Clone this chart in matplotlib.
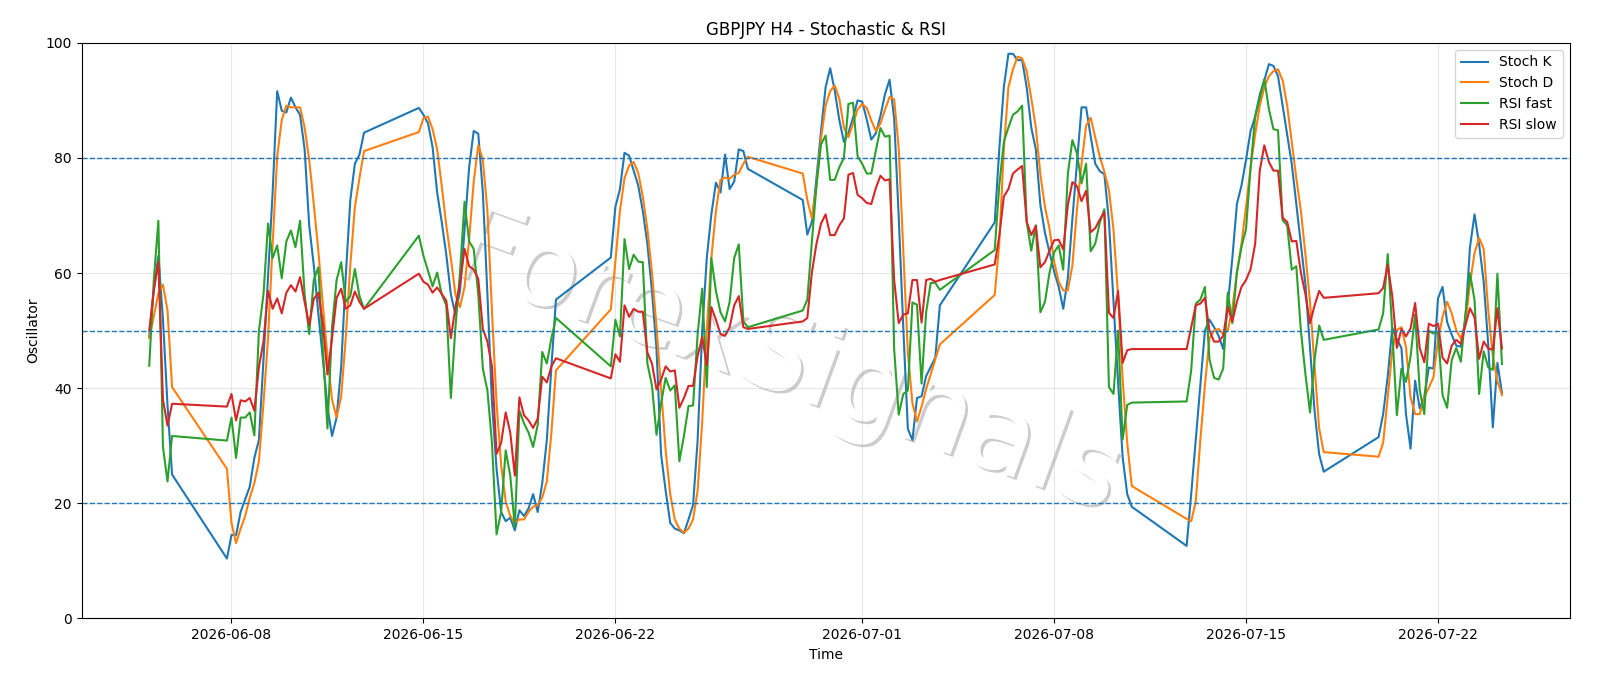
import numpy as np
import pandas as pd
import matplotlib
matplotlib.use("Agg")
import matplotlib.pyplot as plt
import matplotlib.patheffects as pe

# H4 bars, FX hours: Sun 20:00 -> Fri 20:00
all_bars = pd.date_range("2026-06-05 00:00", "2026-07-24 08:00", freq="4h")
keep = []
for t in all_bars:
    wd = t.weekday()
    if wd == 5:
        continue
    if wd == 6 and t.hour < 20:
        continue
    keep.append(t)
times = pd.DatetimeIndex(keep)

stoch_k = [
    49, 57, 63, 52, 37, 25, 10.4, 14.5, 14.5, 18.5, 20.7, 22.9, 27.9, 31, 45, 59.5,
    74, 91.6, 88.2, 87.9, 90.5, 88.8, 87.5, 81.5, 68.3, 61.4, 53, 45, 36.7, 31.7, 34.9, 43.7,
    59.5, 72.7, 79, 80.6, 84.4, 88.7, 87.5, 86, 81.9, 74, 68.9, 63.2, 56.3, 52.8, 56.9, 67.7,
    78.4, 84.7, 84.2, 74, 56.3, 37.4, 26, 18.5, 16.9, 17.5, 15.3, 18.8, 17.8, 19.1, 21.6, 18.5,
    23.5, 31, 43.7, 55.4, 62.7, 71.5, 74.6, 80.9, 80.4, 77.8, 75.2, 70.8, 65.1, 56.9, 46.8, 28.5,
    22.2, 16.6, 15.6, 15.3, 14.8, 17.2, 19.7, 31, 50, 62.6, 70.2, 75.7, 74, 80.6, 74.6, 75.9,
    81.5, 81.2, 78.1, 72.7, 66.7, 68.9, 76.5, 84.7, 92.3, 95.6, 91.7, 86.6, 82.8, 84.4, 87, 90,
    89.8, 86.7, 83.2, 84.3, 87.3, 91.1, 93.6, 86.9, 69.7, 50.5, 32.9, 31, 38.3, 38.6, 42.1, 43.7,
    45.3, 54.4, 68.8, 81.5, 92.3, 98.1, 98.1, 97, 97, 92.3, 85.3, 81.5, 71.8, 67, 63.6, 60.3,
    57.6, 53.8, 59.1, 69.4, 79, 88.8, 88.8, 83.8, 79, 77.7, 77.2, 69, 55, 41, 28, 21.6,
    19.4, 12.6, 21.6, 31, 40.5, 50, 51.9, 50.6, 49.1, 46.8, 54.4, 62.6, 72, 75.2, 79.7, 84.7,
    87.2, 91, 93.5, 96.3, 96, 94.2, 89.1, 84.1, 79, 72, 65, 58, 47, 36, 28.5, 25.5,
    31.5, 35.5, 42, 50.5, 48.5, 47, 35.5, 29.5, 41.3, 36.5, 38.5, 43.6, 43.4, 55.6, 57.6, 51.5,
    49.3, 47.4, 47.2, 52, 64.5, 70.2, 65, 58.5, 47.5, 33.2, 44.4, 39.2,
]

stoch_d = [
    48.7, 52.5, 56.5, 58, 53.5, 40.2, 26, 16.6, 13.1, 15.6, 17.8, 21, 23.5, 27.3, 37.4, 48.7,
    65, 80.3, 86.6, 89.1, 88.8, 88.8, 88.8, 85.3, 79.7, 72, 63.9, 54.4, 45.6, 38, 34.9, 38.6,
    48.7, 61.4, 71.5, 76.5, 81.2, 84.5, 86.9, 87.2, 85, 81.5, 75.2, 68.3, 62.6, 56.3, 54.1, 57.6,
    65.8, 75.9, 82.2, 79.7, 70.8, 53.2, 37.4, 26.7, 20.3, 17.8, 16.6, 17.2, 17.2, 18.5, 19.4, 19.7,
    21, 23.8, 32.3, 43.1, 53.7, 62, 70.8, 76.5, 78.7, 79.3, 77.4, 73.3, 67.7, 60.1, 50.6, 39.9,
    29.2, 21.6, 17.2, 15.6, 14.9, 15.6, 17.2, 22.2, 34.2, 50, 62.6, 70.8, 76.2, 76.6, 76.4, 77.1,
    77.4, 79, 80.2, 77.3, 72.7, 69.5, 75.2, 83.4, 89.1, 91.6, 92.6, 90.3, 85.3, 83.6, 86, 88.4,
    89.4, 88.7, 86.5, 84.7, 86, 88.4, 90.6, 90.2, 81.7, 64, 46.2, 37.4, 34.2, 36.8, 39.9, 42.4,
    45, 47.6, 56.2, 65.1, 81.5, 92.3, 95.4, 97.6, 97.3, 95.1, 90.4, 85.3, 77.1, 71.5, 67.7, 62,
    58.5, 57, 57, 61.3, 71, 79, 85.6, 87, 83.6, 80.2, 77.6, 74.4, 67.5, 56, 41.5, 30.5,
    23, 17.3, 16.9, 20.3, 31, 40.5, 48.7, 50, 50.3, 49.4, 50, 53.8, 60.1, 65.1, 71.5, 78.4,
    84.1, 89.1, 92.3, 94.2, 95.1, 95.4, 93.5, 89.1, 82.8, 76.5, 70.8, 63.2, 55, 43.7, 33, 28.9,
    28.1, 30.5, 38.4, 46.6, 50.1, 50.6, 47.1, 38.4, 35.5, 35.5, 38.4, 40.1, 41.9, 48.3, 52.4, 55,
    53, 50.1, 48.6, 51.2, 58.2, 63.5, 66.1, 64.2, 53.5, 45.5, 41.3, 38.8,
]

rsi_fast = [
    43.9, 58.8, 69.1, 29.8, 23.8, 31.7, 30.9, 34.9, 27.9, 34.9, 34.9, 35.8, 31.8, 50, 56.3, 68.6,
    62.6, 64.8, 59.1, 65.5, 67.4, 64.5, 69.1, 56.3, 49.4, 58.8, 61, 46.8, 33, 50.6, 58.8, 61.9,
    55, 56, 60.7, 56, 53.8, 66.5, 63, 60.4, 57.7, 60.1, 56.3, 54.4, 38.3, 50.6, 60.1, 72.4,
    65.5, 64.2, 56.3, 43.4, 39.6, 30.4, 14.6, 18.5, 29.2, 24.8, 15.9, 36.1, 33.9, 32.3, 29.8, 33.6,
    46.3, 44.3, 48.7, 52.2, 43.8, 51.9, 49, 65.9, 60.7, 63.2, 62, 61.9, 44.3, 40.5, 31.9, 37.4,
    41.8, 39.6, 40.5, 27.3, 31.7, 36.9, 37, 49.4, 57.3, 40.2, 62.6, 56.9, 53.2, 51.6, 55, 62.6,
    65, 51.6, 50.6, 53.5, 55.4, 65.5, 75.2, 82.4, 83.9, 76.2, 76.2, 78.4, 80, 89.4, 89.6, 80.3,
    79, 77.3, 77.3, 81.3, 85.2, 83.7, 83.9, 46.8, 35.4, 39, 39.6, 54.9, 54.5, 40.8, 53.2, 58.3,
    58.3, 57.1, 64, 75.2, 82.8, 85.3, 87.5, 88.1, 89.1, 68.9, 63.9, 68.3, 53.2, 55, 60.1, 63.6,
    64.8, 60.6, 77.2, 83.1, 80.8, 75.6, 79, 63.8, 65.1, 68.8, 71.1, 40.2, 39, 50, 31.1, 37.1,
    37.5, 37.7, 43.1, 54.7, 55.4, 57.6, 45, 41.8, 41.5, 43.4, 56.6, 51.3, 60.1, 64.5, 67.7, 78.4,
    87.2, 90.4, 93.7, 88.5, 85, 84.8, 69.2, 68.3, 60.6, 61.2, 50, 42.4, 35.8, 45, 50.9, 48.4,
    50.2, 53, 63.3, 50, 35.3, 43.4, 41.1, 45.5, 52.8, 39.7, 35.5, 50, 49.5, 49.7, 38.8, 36.6,
    44.9, 47, 44.6, 52.8, 60, 55.3, 39, 46.4, 43.6, 43.2, 59.9, 44.2,
]

rsi_slow = [
    50, 57, 62, 38, 33.5, 37.3, 36.8, 39, 34.4, 37.9, 37.7, 38.3, 36.1, 43.7, 48.1, 56.9,
    53.8, 55.6, 53, 56.6, 57.9, 56.8, 59.3, 55, 51, 55.5, 56.6, 51.3, 42.4, 48.7, 55.7, 57.3,
    53.8, 54.4, 56.8, 55, 53.8, 59.9, 58.5, 58, 56.6, 57.5, 56.4, 55.2, 48.7, 54.1, 58.2, 64.2,
    61.2, 60.6, 59, 50.3, 48.1, 43.7, 28.6, 30.5, 35.8, 32.3, 24.8, 38.4, 35.3, 34.4, 33.1, 34.7,
    42, 41, 43.8, 45.2, 41.7, 45.9, 44.6, 54.4, 52.4, 53.8, 53.3, 53.3, 46.2, 44.3, 39.8, 41.5,
    43.8, 42.9, 43.1, 36.6, 38.3, 40.4, 40.4, 45.6, 48.9, 44, 54.1, 51.9, 49.4, 49.1, 50.6, 54.4,
    56, 50.6, 50.3, 51.6, 52.2, 60.1, 65.1, 68.6, 70.2, 66.6, 66.6, 68.3, 69.5, 77.1, 77.4, 73.6,
    73, 72.2, 72, 74.8, 76.9, 76.1, 76.3, 58.8, 51.3, 52.8, 53, 58.8, 58.8, 51.4, 58.8, 59,
    58.5, 58.8, 61.5, 66.4, 73.3, 74.6, 77.3, 78, 78.6, 68.9, 66.6, 68.2, 61, 61.9, 63.9, 65.7,
    65.8, 64.1, 71.8, 75.8, 75.1, 72.5, 74.3, 67.1, 67.8, 69.3, 70.6, 53.1, 52.2, 56.9, 44.4, 46.6,
    46.8, 46.8, 50.6, 54.4, 54.7, 55.7, 50, 48.1, 48.1, 49.1, 54.1, 51.6, 55, 57.6, 58.8, 60.7,
    65.1, 77.8, 82.2, 79.3, 77.8, 77.8, 69.6, 68.9, 65.5, 65.6, 60.1, 56.3, 51.3, 54.4, 56.9, 55.7,
    56.5, 57.4, 61.4, 56, 47, 50.3, 49, 50.4, 54.8, 47, 44.5, 51.2, 50.8, 51.2, 45.3, 44.3,
    47.4, 48.4, 47.7, 50.9, 53.9, 52.3, 45.1, 48.1, 46.9, 46.7, 53.9, 46.9,
]

levels = [80, 50, 20]

fig, ax = plt.subplots(figsize=(16, 6.86), dpi=100)
fig.subplots_adjust(left=0.051, right=0.981, top=0.9375, bottom=0.0985)

ax.plot(times, stoch_k, label="Stoch K", color="tab:blue", lw=1.5)
ax.plot(times, stoch_d, label="Stoch D", color="tab:orange", lw=1.5)
ax.plot(times, rsi_fast, label="RSI fast", color="tab:green", lw=1.5)
ax.plot(times, rsi_slow, label="RSI slow", color="tab:red", lw=1.5)

for lv in levels:
    ax.axhline(lv, color="tab:blue", ls="--", lw=1)

ax.set_ylim(0, 100)
ax.grid(True, alpha=0.3)
ax.set_title("GBPJPY H4 - Stochastic & RSI")
ax.set_xlabel("Time")
ax.set_ylabel("Oscillator")
ax.legend(loc="upper right")

# watermark
ax.text(0.474, 0.445, "ForexSignals", transform=ax.transAxes, fontsize=80,
        color="white", rotation=-20, ha="center", va="center", zorder=1,
        path_effects=[pe.withSimplePatchShadow(offset=(2, -2), shadow_rgbFace="gray", alpha=0.4),
                      pe.Normal()])

fig.savefig("out.png", dpi=100)
